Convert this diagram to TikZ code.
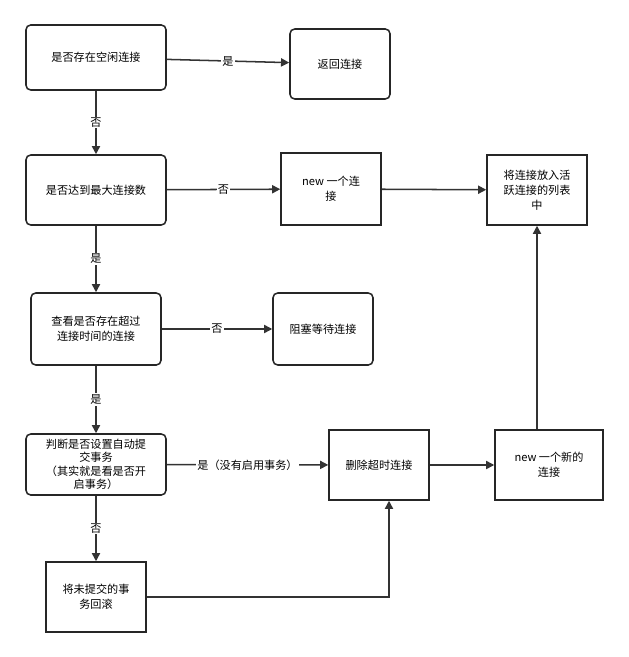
\documentclass[tikz,border=0pt]{standalone}
\usepackage{fontspec}
\newfontfamily\cjk{Noto Sans CJK SC}
\usetikzlibrary{arrows.meta}
\begin{document}
\begin{tikzpicture}[x=0.03cm,y=-0.03cm,
  font=\cjk\fontsize{9.5}{13}\selectfont,
  base/.style={draw=black!85,line width=1.3pt,align=center,inner sep=2pt},
  rbox/.style={base,rounded corners=4pt},
  sbox/.style={base},
  conn/.style={draw=black!80,line width=1.3pt,-{Triangle[length=7pt,width=7pt]}},
  lbl/.style={fill=white,inner sep=1pt}]
\useasboundingbox (0,0) rectangle (628,657);
\node[rbox,minimum width=140*0.03cm,minimum height=65*0.03cm] (a) at (96,57.5) {是否存在空闲连接};
\node[rbox,minimum width=100*0.03cm,minimum height=70*0.03cm] (b) at (340,64) {返回连接};
\node[rbox,minimum width=140*0.03cm,minimum height=70*0.03cm] (c) at (96,190) {是否达到最大连接数};
\node[sbox,minimum width=100*0.03cm,minimum height=72*0.03cm] (d) at (331,189) {new 一个连\\接};
\node[sbox,minimum width=100*0.03cm,minimum height=70*0.03cm] (e) at (537,190) {将连接放入活\\跃连接的列表\\中};
\node[rbox,minimum width=130*0.03cm,minimum height=72*0.03cm] (f) at (96,329) {查看是否存在超过\\连接时间的连接};
\node[rbox,minimum width=100*0.03cm,minimum height=72*0.03cm] (g) at (323,329) {阻塞等待连接};
\node[rbox,minimum width=140*0.03cm,minimum height=61*0.03cm,inner sep=0pt,font=\cjk\fontsize{9.5}{11.5}\selectfont] (h) at (96,464.5) {判断是否设置自动提\\交事务\\（其实就是看是否开\\启事务）};
\node[sbox,minimum width=100*0.03cm,minimum height=70*0.03cm] (i) at (379,465) {删除超时连接};
\node[sbox,minimum width=108*0.03cm,minimum height=70*0.03cm] (j) at (549,465) {new 一个新的\\连接};
\node[sbox,minimum width=100*0.03cm,minimum height=70*0.03cm] (k) at (96,597) {将未提交的事\\务回滚};
\coordinate (kc) at (389,597);
\draw[conn] (a) -- node[lbl]{是} (b);
\draw[conn] (a) -- node[lbl]{否} (c);
\draw[conn] (c) -- node[lbl]{否} (d);
\draw[conn] (d) -- (e);
\draw[conn] (c) -- node[lbl]{是} (f);
\draw[conn] (f) -- node[lbl]{否} (g);
\draw[conn] (f) -- node[lbl]{是} (h);
\draw[conn] (h) -- node[lbl]{是（没有启用事务）} (i);
\draw[conn] (i) -- (j);
\draw[conn] (j.north -| e) -- (e);
\draw[conn] (h) -- node[lbl]{否} (k);
\draw[conn] (k.east) -- (kc) -- (kc |- i.south);
\end{tikzpicture}
\end{document}
